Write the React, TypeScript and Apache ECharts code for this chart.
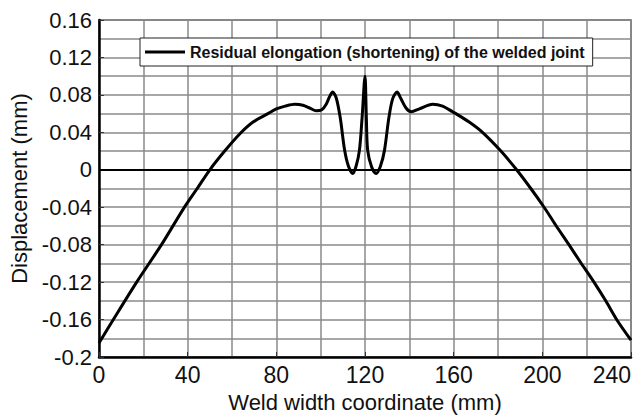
import React, { useEffect, useRef } from "react";
import * as echarts from "echarts";

const xValues = [0, 6.2, 17, 28.2, 38, 44.3, 50, 56.7, 63.8, 69.5, 76.2, 80, 84, 88.3, 92, 95, 98, 100.5, 102.5, 104, 105.4, 107, 108.8, 110.8, 112.5, 114.5, 116, 117.5, 118.7, 120, 120.6, 121.2, 123, 125, 127, 128.8, 130.8, 132.5, 134.5, 136, 138.5, 140.8, 144.5, 150.5, 155, 159.5, 161, 167, 173, 181.3, 188.4, 194.8, 200.8, 206, 212, 217.3, 223.3, 228.6, 233.8, 240];
const yValues = [-0.185, -0.161, -0.12, -0.08, -0.042, -0.02, 0, 0.02, 0.039, 0.051, 0.06, 0.065, 0.068, 0.07, 0.069, 0.066, 0.063, 0.064, 0.07, 0.078, 0.083, 0.077, 0.056, 0.021, 0.004, -0.004, 0.004, 0.021, 0.056, 0.1, 0.056, 0.021, 0.003, -0.004, 0.004, 0.021, 0.056, 0.076, 0.083, 0.077, 0.066, 0.062, 0.065, 0.07, 0.068, 0.062, 0.06, 0.051, 0.04, 0.02, 0, -0.02, -0.04, -0.059, -0.08, -0.099, -0.12, -0.14, -0.161, -0.182];

const seriesName = "Residual elongation (shortening) of the welded joint";
const xAxisName = "Weld width coordinate (mm)";
const yAxisName = "Displacement (mm)";
const xMin = 0, xMax = 240, xStep = 40;
const yMin = -0.2, yMax = 0.16, yStep = 0.04;

const FONT = "'Liberation Sans', Arial, sans-serif";

export default function App() {
  const ref = useRef<HTMLDivElement>(null);
  useEffect(() => {
    const chart = echarts.init(ref.current!, null, { renderer: "svg" });
    const data = xValues.map((x, i) => [x, yValues[i]]);
    chart.setOption({
      animation: false,
      backgroundColor: "#ffffff",
      textStyle: { fontFamily: FONT },
      grid: {
        left: 99, right: 2, top: 20, bottom: 60,
        show: true, borderColor: "#555", borderWidth: 1.5, backgroundColor: "transparent",
      },
      legend: {
        show: true,
        left: 140, top: 38,
        padding: [5, 8, 5, 5],
        itemWidth: 40, itemHeight: 3, itemGap: 5,
        borderColor: "#222", borderWidth: 1, backgroundColor: "#fff",
        textStyle: { fontSize: 16, fontWeight: "bold", color: "#111", fontFamily: FONT, lineHeight: 18 },
        data: [{ name: seriesName, icon: "rect", itemStyle: { color: "#000" } }],
        itemStyle: { color: "#000" },
      },
      xAxis: {
        type: "value", min: xMin, max: xMax, interval: xStep,
        name: xAxisName, nameLocation: "middle", nameGap: 34,
        nameTextStyle: { fontSize: 22, color: "#111", fontFamily: FONT },
        axisLine: { onZero: false, lineStyle: { color: "#000", width: 2.5 } },
        axisTick: { show: true, inside: true, length: 5, lineStyle: { color: "#333", width: 1 } },
        axisLabel: { fontSize: 23, color: "#111", margin: 6, alignMaxLabel: "right", fontFamily: FONT },
        splitLine: { show: true, lineStyle: { color: "#8a8a8a", width: 1.5 } },
        minorTick: { show: false, splitNumber: 2 },
        minorSplitLine: { show: true, lineStyle: { color: "#8a8a8a", width: 1.5 } },
      },
      yAxis: {
        type: "value", min: yMin, max: yMax, interval: yStep,
        name: yAxisName, nameLocation: "middle", nameGap: 66,
        nameTextStyle: { fontSize: 22, color: "#111", fontFamily: FONT },
        axisLine: { lineStyle: { color: "#000", width: 2.5 } },
        axisTick: { show: true, inside: true, length: 5, lineStyle: { color: "#333", width: 1 } },
        axisLabel: { fontSize: 22, color: "#111", margin: 7, fontFamily: FONT },
        splitLine: { show: true, lineStyle: { color: "#8a8a8a", width: 1.5 } },
        minorTick: { show: false, splitNumber: 2 },
        minorSplitLine: { show: true, lineStyle: { color: "#8a8a8a", width: 1.5 } },
      },
      series: [
        {
          name: seriesName,
          type: "line",
          data,
          symbol: "none",
          smooth: 0.3,
          lineStyle: { color: "#000", width: 3, join: "round" },
          itemStyle: { color: "#000" },
          markLine: {
            silent: true, symbol: "none", label: { show: false },
            lineStyle: { color: "#000", width: 2, type: "solid" },
            data: [{ yAxis: 0 }],
          },
          z: 5,
        },
      ],
    });
    return () => chart.dispose();
  }, []);
  return (
    <div
      ref={ref}
      style={{ position: "fixed", left: 0, top: 0, width: 634, height: 418, background: "#fff" }}
    />
  );
}
